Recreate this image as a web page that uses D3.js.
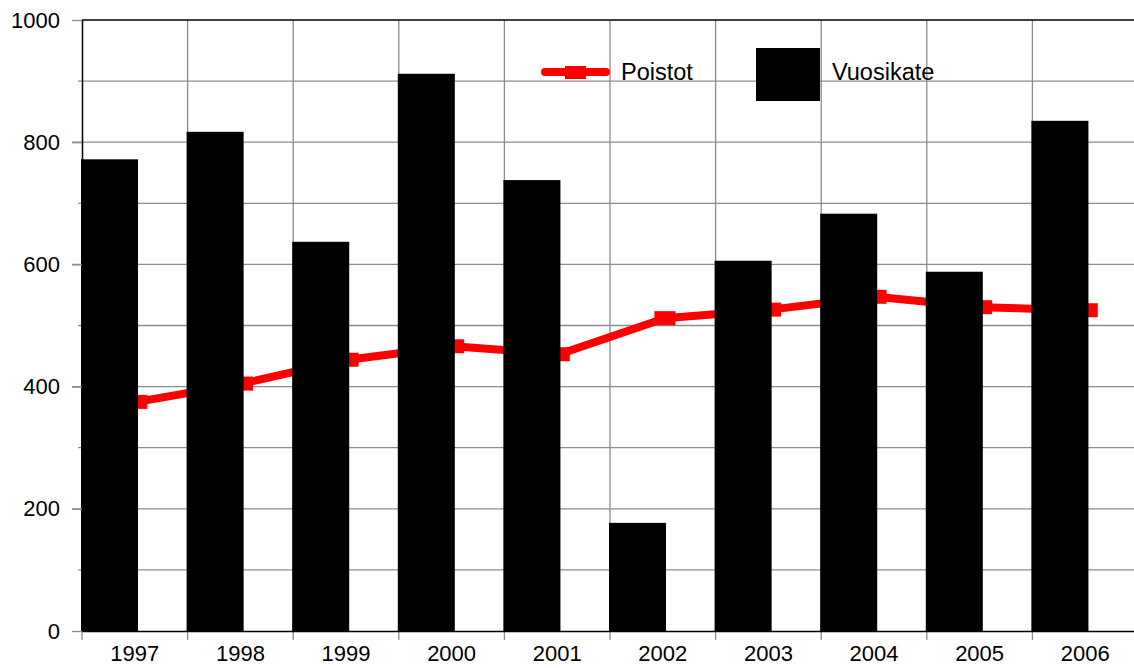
<!DOCTYPE html>
<html>
<head>
<meta charset="utf-8">
<script src="https://cdn.jsdelivr.net/npm/d3@7"></script>
<style>
  body { margin: 0; background: #fff; }
  svg { display: block; font-family: 'Liberation Sans', Arial, sans-serif; }
</style>
</head>
<body>
<div id="root"></div>
<script>
const width = 1134;
const height = 668;
const margin = { top: 20, right: -4, bottom: 37, left: 82 };

const years = ['1997', '1998', '1999', '2000', '2001', '2002', '2003', '2004', '2005', '2006'];
const vuosikate = [772, 817, 637, 912, 738, 177, 606, 683, 588, 835];
const poistot = [375, 405, 444, 466, 453, 512, 526, 547, 530, 525];
const yTicks = [0, 200, 400, 600, 800, 1000];
const yGrid = [100, 200, 300, 400, 500, 600, 700, 800, 900];

const gridColor = '#8c8c8c';

const svg = d3
  .select('#root')
  .append('svg')
  .attr('width', width)
  .attr('height', height);

// Scales

const xScale = d3
  .scaleBand()
  .domain(years)
  .range([margin.left, width - margin.right])
  .padding(0);

const yScale = d3
  .scaleLinear()
  .domain([0, 1000])
  .range([height - margin.bottom, margin.top]);

const bw = xScale.bandwidth();
const x0 = margin.left;
const x1 = width - margin.right;
const yBottom = yScale(0);
const yTop = yScale(1000);

// Grid

svg
  .append('g')
  .selectAll('line')
  .data(yGrid)
  .enter()
  .append('line')
  .attr('x1', (d) => (d % 200 === 0 ? x0 - 10 : x0 - 4))
  .attr('x2', x1)
  .attr('y1', (d) => yScale(d))
  .attr('y2', (d) => yScale(d))
  .attr('stroke', gridColor)
  .attr('stroke-width', 1.3);

svg
  .append('g')
  .selectAll('line')
  .data(years)
  .enter()
  .append('line')
  .attr('x1', (d) => xScale(d))
  .attr('x2', (d) => xScale(d))
  .attr('y1', (d, i) => (i === 0 ? yBottom : yTop))
  .attr('y2', yBottom + 9)
  .attr('stroke', gridColor)
  .attr('stroke-width', 1.3);

// Legend

const legend = svg.append('g').attr('id', 'legend');

legend
  .append('line')
  .attr('x1', 545)
  .attr('x2', 606)
  .attr('y1', 72)
  .attr('y2', 72)
  .attr('stroke', '#ff0000')
  .attr('stroke-width', 8)
  .attr('stroke-linecap', 'round');

legend
  .append('rect')
  .attr('x', 565)
  .attr('y', 66)
  .attr('width', 21)
  .attr('height', 13)
  .attr('fill', '#ff0000');

legend
  .append('text')
  .attr('x', 621)
  .attr('y', 80)
  .attr('font-size', 23.5)
  .text('Poistot');

legend
  .append('rect')
  .attr('x', 756)
  .attr('y', 48)
  .attr('width', 64)
  .attr('height', 53)
  .attr('fill', '#000');

legend
  .append('text')
  .attr('x', 832)
  .attr('y', 80)
  .attr('font-size', 23.5)
  .text('Vuosikate');

// Poistot line (sits behind the bars)

const px = (d, i) => xScale(years[i]) + bw * 0.52;

const line = d3
  .line()
  .x(px)
  .y((d) => yScale(d));

svg
  .append('path')
  .datum(poistot)
  .attr('d', line)
  .attr('fill', 'none')
  .attr('stroke', '#ff0000')
  .attr('stroke-width', 8)
  .attr('stroke-linejoin', 'round');

svg
  .append('g')
  .selectAll('rect')
  .data(poistot)
  .enter()
  .append('rect')
  .attr('x', (d, i) => px(d, i) - 10.5)
  .attr('y', (d) => yScale(d) - 7)
  .attr('width', 21)
  .attr('height', 14)
  .attr('fill', '#ff0000');

// Vuosikate bars

svg
  .append('g')
  .selectAll('rect')
  .data(vuosikate)
  .enter()
  .append('rect')
  .attr('x', (d, i) => xScale(years[i]) - 1)
  .attr('y', (d) => yScale(d))
  .attr('width', bw * 0.54)
  .attr('height', (d) => yBottom - yScale(d))
  .attr('fill', '#000');

// Axes

const yAxis = d3
  .axisLeft(yScale)
  .tickValues(yTicks)
  .tickFormat(d3.format('d'))
  .tickSize(10)
  .tickPadding(12)
  .tickSizeOuter(0);

const gy = svg
  .append('g')
  .attr('transform', `translate(${x0}, 0)`)
  .call(yAxis);

gy.select('.domain').attr('stroke', '#000').attr('stroke-width', 1.5);
gy.selectAll('.tick line').attr('stroke', gridColor).attr('stroke-width', 1.3);
gy.selectAll('.tick text')
  .attr('font-size', 22)
  .attr('font-family', "'Liberation Sans', Arial, sans-serif")
  .attr('fill', '#000');

const xAxis = d3.axisBottom(xScale).tickSize(0).tickPadding(14).tickSizeOuter(0);

const gx = svg
  .append('g')
  .attr('transform', `translate(0, ${yBottom})`)
  .call(xAxis);

gx.select('.domain').attr('stroke', '#000').attr('stroke-width', 1.5);
gx.selectAll('.tick text')
  .attr('font-size', 22)
  .attr('font-family', "'Liberation Sans', Arial, sans-serif")
  .attr('fill', '#000');

// Top border

svg
  .append('line')
  .attr('x1', x0)
  .attr('x2', x1)
  .attr('y1', yTop)
  .attr('y2', yTop)
  .attr('stroke', '#000')
  .attr('stroke-width', 1.5);
</script>
</body>
</html>
